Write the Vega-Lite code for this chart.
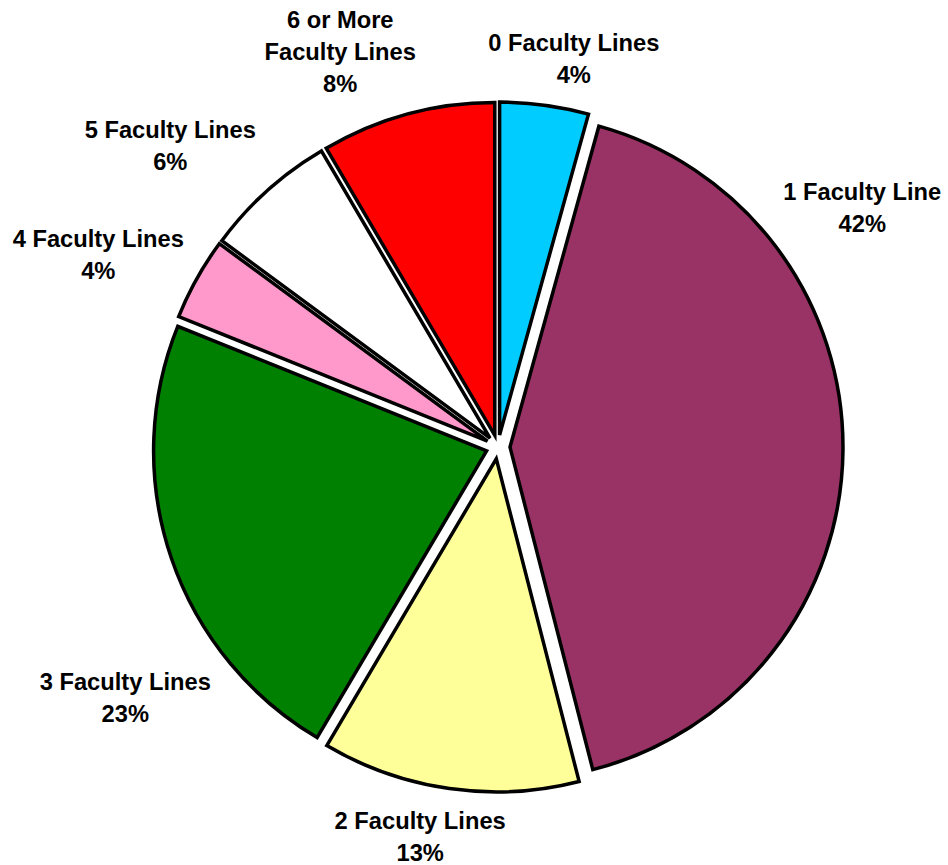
{
  "$schema": "https://vega.github.io/schema/vega-lite/v6.json",
  "autosize": "none",
  "width": 900,
  "height": 836,
  "padding": {"left": 48, "top": 29, "right": 0, "bottom": 0},
  "background": "white",
  "config": {"view": {"stroke": null}},
  "data": {
    "values": [
      {"category": "0 Faculty Lines", "order": 0, "value": 4.3, "label": "0 Faculty Lines\n4%"},
      {"category": "1 Faculty Line", "order": 1, "value": 41.7, "label": "1 Faculty Line\n42%"},
      {"category": "2 Faculty Lines", "order": 2, "value": 12.5, "label": "2 Faculty Lines\n13%"},
      {"category": "3 Faculty Lines", "order": 3, "value": 22.6, "label": "3 Faculty Lines\n23%"},
      {"category": "4 Faculty Lines", "order": 4, "value": 4.0, "label": "4 Faculty Lines\n4%"},
      {"category": "5 Faculty Lines", "order": 5, "value": 6.45, "label": "5 Faculty Lines\n6%"},
      {"category": "6 or More Faculty Lines", "order": 6, "value": 8.45, "label": "6 or More\nFaculty Lines\n8%"}
    ]
  },
  "transform": [
    {"stack": "value", "groupby": [], "sort": [{"field": "order", "order": "ascending"}], "as": ["v0", "v1"]}
  ],
  "layer": [
    {
      "transform": [{"filter": {"field": "order", "equal": 0}}],
      "mark": {"type": "arc", "radius": 333, "stroke": "black", "strokeWidth": 3.5, "xOffset": 1.6, "yOffset": -11.9},
      "encoding": {
        "theta": {"field": "v0", "type": "quantitative", "scale": {"domain": [0, 100], "nice": false}},
        "theta2": {"field": "v1"},
        "color": {"field": "category", "type": "nominal", "legend": null,
          "scale": {"domain": ["0 Faculty Lines", "1 Faculty Line", "2 Faculty Lines", "3 Faculty Lines", "4 Faculty Lines", "5 Faculty Lines", "6 or More Faculty Lines"],
                    "range": ["#00CCFF", "#993366", "#FFFF99", "#008000", "#FF99CC", "#FFFFFF", "#FF0000"]}}
      }
    },
    {
      "transform": [{"filter": {"field": "order", "equal": 1}}],
      "mark": {"type": "arc", "radius": 333, "stroke": "black", "strokeWidth": 3.5, "xOffset": 12, "yOffset": 0.1},
      "encoding": {
        "theta": {"field": "v0", "type": "quantitative"},
        "theta2": {"field": "v1"},
        "color": {"field": "category", "type": "nominal", "legend": null}
      }
    },
    {
      "transform": [{"filter": {"field": "order", "equal": 2}}],
      "mark": {"type": "arc", "radius": 333, "stroke": "black", "strokeWidth": 3.5, "xOffset": -1.7, "yOffset": 11.9},
      "encoding": {
        "theta": {"field": "v0", "type": "quantitative"},
        "theta2": {"field": "v1"},
        "color": {"field": "category", "type": "nominal", "legend": null}
      }
    },
    {
      "transform": [{"filter": {"field": "order", "equal": 3}}],
      "mark": {"type": "arc", "radius": 333, "stroke": "black", "strokeWidth": 3.5, "xOffset": -11.4, "yOffset": 3.9},
      "encoding": {
        "theta": {"field": "v0", "type": "quantitative"},
        "theta2": {"field": "v1"},
        "color": {"field": "category", "type": "nominal", "legend": null}
      }
    },
    {
      "transform": [{"filter": {"field": "order", "equal": 4}}],
      "mark": {"type": "arc", "radius": 333, "stroke": "black", "strokeWidth": 3.5, "xOffset": -10.5, "yOffset": -5.9},
      "encoding": {
        "theta": {"field": "v0", "type": "quantitative"},
        "theta2": {"field": "v1"},
        "color": {"field": "category", "type": "nominal", "legend": null}
      }
    },
    {
      "transform": [{"filter": {"field": "order", "equal": 5}}],
      "mark": {"type": "arc", "radius": 333, "stroke": "black", "strokeWidth": 3.5, "xOffset": -8.0, "yOffset": -8.9},
      "encoding": {
        "theta": {"field": "v0", "type": "quantitative"},
        "theta2": {"field": "v1"},
        "color": {"field": "category", "type": "nominal", "legend": null}
      }
    },
    {
      "transform": [{"filter": {"field": "order", "equal": 6}}],
      "mark": {"type": "arc", "radius": 333, "stroke": "black", "strokeWidth": 3.5, "xOffset": -3.2, "yOffset": -11.6},
      "encoding": {
        "theta": {"field": "v0", "type": "quantitative"},
        "theta2": {"field": "v1"},
        "color": {"field": "category", "type": "nominal", "legend": null}
      }
    },
    {
      "transform": [{"filter": {"field": "order", "equal": 0}}],
      "mark": {"type": "text", "radius": 410, "thetaOffset": 0.186, "lineBreak": "\n", "font": "Liberation Sans", "fontWeight": "bold", "fontSize": 23.7, "lineHeight": 32, "align": "center", "baseline": "middle", "color": "black"},
      "encoding": {"theta": {"field": "v0", "type": "quantitative"}, "text": {"field": "label"}}
    },
    {
      "transform": [{"filter": {"field": "order", "equal": 1}}],
      "mark": {"type": "text", "radius": 444, "thetaOffset": 0.692, "lineBreak": "\n", "font": "Liberation Sans", "fontWeight": "bold", "fontSize": 23.7, "lineHeight": 32, "align": "center", "baseline": "middle", "color": "black"},
      "encoding": {"theta": {"field": "v0", "type": "quantitative"}, "text": {"field": "label"}}
    },
    {
      "transform": [{"filter": {"field": "order", "equal": 2}}],
      "mark": {"type": "text", "radius": 383, "thetaOffset": 0.456, "lineBreak": "\n", "font": "Liberation Sans", "fontWeight": "bold", "fontSize": 23.7, "lineHeight": 32, "align": "center", "baseline": "middle", "color": "black"},
      "encoding": {"theta": {"field": "v0", "type": "quantitative"}, "text": {"field": "label"}}
    },
    {
      "transform": [{"filter": {"field": "order", "equal": 3}}],
      "mark": {"type": "text", "radius": 441, "thetaOffset": 0.473, "lineBreak": "\n", "font": "Liberation Sans", "fontWeight": "bold", "fontSize": 23.7, "lineHeight": 32, "align": "center", "baseline": "middle", "color": "black"},
      "encoding": {"theta": {"field": "v0", "type": "quantitative"}, "text": {"field": "label"}}
    },
    {
      "transform": [{"filter": {"field": "order", "equal": 4}}],
      "mark": {"type": "text", "radius": 450, "thetaOffset": 0.094, "lineBreak": "\n", "font": "Liberation Sans", "fontWeight": "bold", "fontSize": 23.7, "lineHeight": 32, "align": "center", "baseline": "middle", "color": "black"},
      "encoding": {"theta": {"field": "v0", "type": "quantitative"}, "text": {"field": "label"}}
    },
    {
      "transform": [{"filter": {"field": "order", "equal": 5}}],
      "mark": {"type": "text", "radius": 455, "thetaOffset": 0.132, "lineBreak": "\n", "font": "Liberation Sans", "fontWeight": "bold", "fontSize": 23.7, "lineHeight": 32, "align": "center", "baseline": "middle", "color": "black"},
      "encoding": {"theta": {"field": "v0", "type": "quantitative"}, "text": {"field": "label"}}
    },
    {
      "transform": [{"filter": {"field": "order", "equal": 6}}],
      "mark": {"type": "text", "radius": 454, "thetaOffset": 0.176, "lineBreak": "\n", "font": "Liberation Sans", "fontWeight": "bold", "fontSize": 23.7, "lineHeight": 32, "align": "center", "baseline": "middle", "color": "black"},
      "encoding": {"theta": {"field": "v0", "type": "quantitative"}, "text": {"field": "label"}}
    }
  ]
}
